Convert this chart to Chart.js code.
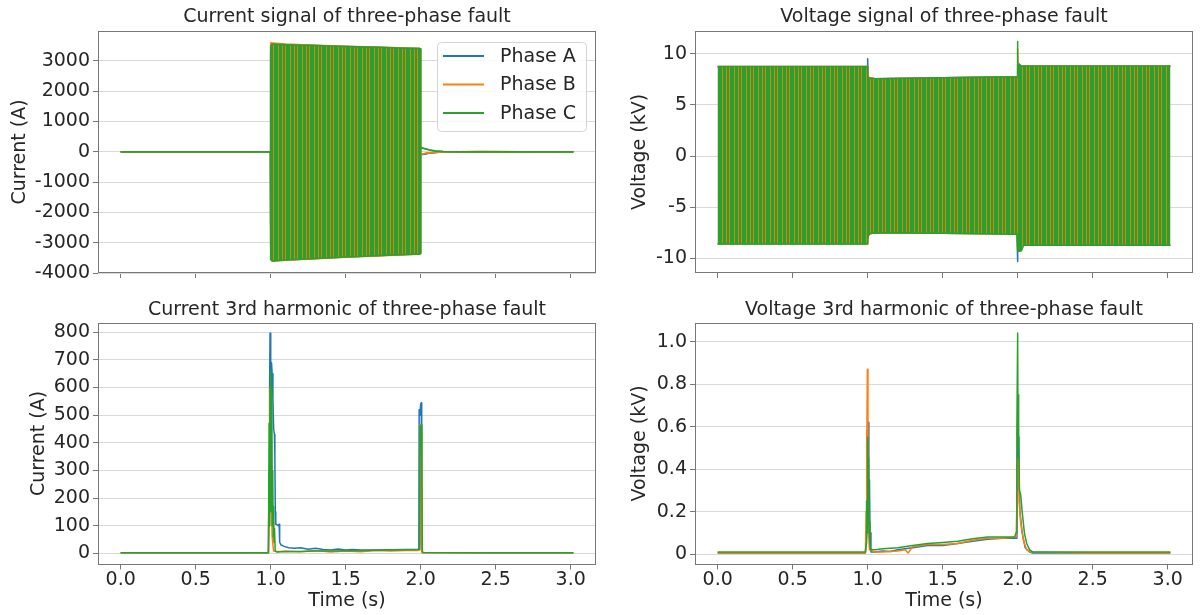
<!DOCTYPE html>
<html>
<head>
<meta charset="utf-8">
<script src="https://cdn.jsdelivr.net/npm/chart.js@4.4.0/dist/chart.umd.min.js"></script>
<style>
html,body{margin:0;padding:0;background:#fff;}
body{width:1200px;height:615px;position:relative;overflow:hidden;}
.box{position:absolute;}
canvas{display:block;}
</style>
</head>
<body>
<div class="box" style="left:0;top:0;width:600px;height:290px"><canvas id="cTL" width="600" height="290"></canvas></div>
<div class="box" style="left:600px;top:0;width:600px;height:290px"><canvas id="cTR" width="600" height="290"></canvas></div>
<div class="box" style="left:0;top:292px;width:600px;height:323px"><canvas id="cBL" width="600" height="323"></canvas></div>
<div class="box" style="left:600px;top:292px;width:600px;height:323px"><canvas id="cBR" width="600" height="323"></canvas></div>
<script>
// ===================== DATA =====================
const phaseLabels = ['Phase A', 'Phase B', 'Phase C'];

// --- Current signal (A): upper / lower envelope of the 50 Hz oscillation
const tCurSig    = [0, 0.998, 1.0, 1.01, 1.1, 1.3, 1.5, 1.7, 1.9, 1.995, 1.999, 2.0, 2.01, 2.03, 2.06, 2.1, 2.15, 2.25, 2.4, 2.7, 3.018];
const curSigA_hi = [0, 0, 3300, 3560, 3540, 3510, 3480, 3450, 3420, 3410, 3400, -80, -90, -70, -40, -20, -8, 0, 0, 0, 0];
const curSigA_lo = [0, 0, -2400, -3590, -3570, -3520, -3470, -3430, -3390, -3370, -3360, -80, -90, -70, -40, -20, -8, 0, 0, 0, 0];
const curSigB_hi = [0, 0, 3600, 3590, 3560, 3520, 3490, 3460, 3430, 3410, 3400, -60, -70, -50, -30, -15, -5, 3, 8, 4, 0];
const curSigB_lo = [0, 0, -3100, -3610, -3580, -3530, -3480, -3440, -3400, -3380, -3360, -60, -70, -50, -30, -15, -5, 3, 8, 4, 0];
const curSigC_hi = [0, 0, 3490, 3560, 3540, 3510, 3480, 3450, 3420, 3410, 3400, 130, 125, 100, 60, 30, 15, 5, 2, 0, 0];
const curSigC_lo = [0, 0, -3560, -3600, -3570, -3520, -3470, -3430, -3390, -3370, -3360, 130, 125, 100, 60, 30, 15, 5, 2, 0, 0];

// --- Voltage signal (kV): upper / lower envelope of the 50 Hz oscillation
const tVolSig    = [0, 0.997, 1.0, 1.003, 1.01, 1.05, 1.5, 1.996, 1.999, 2.001, 2.004, 2.01, 2.025, 2.04, 2.5, 3.018];
const volSigA_hi = [8.7, 8.7, 9.5, 7.8, 7.65, 7.55, 7.65, 7.75, 8.0, 9.0, 9.05, 9.0, 8.8, 8.75, 8.75, 8.75];
const volSigA_lo = [-8.55, -8.55, -8.0, -7.9, -7.6, -7.5, -7.55, -7.6, -10.3, -9.5, -9.0, -8.8, -8.75, -8.7, -8.7, -8.7];
const volSigB_hi = [8.75, 8.75, 8.3, 7.75, 7.65, 7.55, 7.65, 7.75, 10.5, 10.4, 8.9, 8.85, 8.8, 8.8, 8.8, 8.8];
const volSigB_lo = [-8.6, -8.6, -8.1, -7.9, -7.6, -7.5, -7.55, -7.65, -8.0, -8.8, -8.8, -8.75, -8.72, -8.72, -8.72, -8.72];
const volSigC_hi = [8.75, 8.75, 8.0, 7.7, 7.6, 7.55, 7.65, 7.75, 11.2, 9.0, 8.9, 8.85, 8.8, 8.8, 8.8, 8.8];
const volSigC_lo = [-8.6, -8.6, -8.2, -7.9, -7.6, -7.5, -7.55, -7.65, -9.3, -9.3, -9.3, -9.3, -9.25, -8.72, -8.72, -8.72];

// --- Current 3rd harmonic (A)
const tCurHarmA = [0, 0.5, 0.985, 0.99, 0.993, 0.996, 0.999, 1.002, 1.006, 1.01, 1.015, 1.02, 1.025, 1.028, 1.031, 1.034, 1.04, 1.05, 1.057, 1.06, 1.07, 1.09, 1.12, 1.16, 1.2, 1.25, 1.3, 1.35, 1.4, 1.45, 1.5, 1.55, 1.6, 1.7, 1.8, 1.9, 1.988, 1.99, 1.995, 2.0, 2.004, 2.007, 2.012, 2.5, 3.018];
const curHarmA  = [2, 2, 2, 300, 600, 797, 690, 560, 690, 650, 560, 450, 430, 360, 150, 105, 105, 100, 105, 40, 30, 25, 20, 18, 20, 15, 18, 14, 12, 16, 12, 14, 12, 12, 13, 14, 14, 520, 500, 540, 545, 20, 3, 2, 2];
const tCurHarmB = [0, 0.5, 0.985, 0.99, 0.994, 0.998, 1.002, 1.006, 1.01, 1.015, 1.02, 1.05, 1.1, 1.2, 1.3, 1.4, 1.5, 1.6, 1.7, 1.8, 1.9, 1.98, 1.99, 1.995, 1.998, 2.003, 2.006, 2.01, 2.5, 3.018];
const curHarmB  = [2, 2, 2, 100, 600, 180, 220, 150, 60, 30, 8, 6, 8, 6, 10, 5, 8, 6, 10, 8, 10, 10, 12, 250, 465, 450, 30, 2, 2, 2];
const tCurHarmC = [0, 0.5, 0.985, 0.99, 0.993, 0.996, 0.999, 1.002, 1.005, 1.008, 1.011, 1.014, 1.017, 1.02, 1.023, 1.026, 1.03, 1.04, 1.06, 1.1, 1.2, 1.3, 1.4, 1.5, 1.6, 1.7, 1.8, 1.9, 1.98, 1.993, 1.996, 2.0, 2.004, 2.008, 2.011, 2.02, 2.5, 3.018];
const curHarmC  = [2, 2, 2, 470, 100, 600, 150, 660, 220, 600, 100, 300, 60, 170, 40, 90, 10, 5, 6, 6, 7, 8, 8, 9, 9, 11, 12, 13, 14, 15, 460, 430, 465, 300, 5, 3, 2, 2];

// --- Voltage 3rd harmonic (kV)
const tVolHarmA = [0, 0.5, 0.985, 0.995, 1.0, 1.005, 1.008, 1.012, 1.016, 1.022, 1.05, 1.1, 1.15, 1.2, 1.25, 1.3, 1.4, 1.5, 1.6, 1.7, 1.8, 1.9, 1.99, 1.995, 2.0, 2.004, 2.008, 2.015, 2.03, 2.05, 2.08, 2.1, 2.5, 3.018];
const volHarmA  = [0.005, 0.005, 0.005, 0.1, 0.35, 0.62, 0.3, 0.35, 0.1, 0.01, 0.01, 0.015, 0.012, 0.02, 0.025, 0.03, 0.04, 0.04, 0.05, 0.06, 0.07, 0.075, 0.075, 0.3, 0.62, 0.55, 0.4, 0.2, 0.1, 0.03, 0.01, 0.005, 0.005, 0.005];
const tVolHarmB = [0, 0.5, 0.985, 0.99, 0.992, 0.995, 0.998, 1.002, 1.006, 1.012, 1.05, 1.1, 1.2, 1.25, 1.27, 1.3, 1.4, 1.5, 1.6, 1.7, 1.8, 1.9, 1.99, 1.997, 2.002, 2.006, 2.01, 2.02, 2.04, 2.06, 2.09, 2.5, 3.018];
const volHarmB  = [0.005, 0.005, 0.005, 0.2, 0.58, 0.4, 0.87, 0.45, 0.1, 0.02, 0.01, 0.01, 0.015, 0.02, 0.005, 0.035, 0.045, 0.045, 0.05, 0.065, 0.075, 0.075, 0.08, 0.3, 0.45, 0.43, 0.24, 0.15, 0.06, 0.02, 0.01, 0.005, 0.005];
const tVolHarmC = [0, 0.5, 0.985, 0.99, 0.993, 0.997, 1.0, 1.003, 1.006, 1.01, 1.015, 1.02, 1.05, 1.1, 1.2, 1.3, 1.4, 1.5, 1.6, 1.7, 1.8, 1.9, 1.98, 1.99, 1.995, 2.0, 2.003, 2.005, 2.008, 2.012, 2.02, 2.03, 2.045, 2.06, 2.08, 2.1, 2.5, 3.018];
const volHarmC  = [0.01, 0.01, 0.01, 0.05, 0.25, 0.1, 0.55, 0.35, 0.45, 0.15, 0.05, 0.02, 0.02, 0.025, 0.03, 0.04, 0.05, 0.055, 0.06, 0.072, 0.08, 0.08, 0.08, 0.1, 0.6, 1.04, 0.5, 0.75, 0.6, 0.3, 0.28, 0.2, 0.1, 0.05, 0.02, 0.01, 0.01, 0.01];

// --- Tick values
const timeTicks     = [0, 0.5, 1.0, 1.5, 2.0, 2.5, 3.0];
const curSigTicks   = [-4000, -3000, -2000, -1000, 0, 1000, 2000, 3000];
const volSigTicks   = [-10, -5, 0, 5, 10];
const curHarmTicks  = [0, 100, 200, 300, 400, 500, 600, 700, 800];
const volHarmTicks  = [0, 0.2, 0.4, 0.6, 0.8, 1.0];
// ===================== END DATA =====================

const BLUE = '#1f77b4', ORANGE = '#ff7f0e', GREEN = '#2ca02c';
const TXT = '#262626';
Chart.defaults.font.family = "'DejaVu Sans', sans-serif";
Chart.defaults.color = TXT;

function pts(t, v) { return t.map((x, i) => ({x: x, y: v[i]})); }

// striped fill that imitates the dense overlapping oscillations
function stripePattern() {
  const c = document.createElement('canvas');
  c.width = 12; c.height = 8;
  const g = c.getContext('2d');
  g.fillStyle = GREEN; g.fillRect(0, 0, 12, 8);
  [2, 6, 9].forEach(i => { g.clearRect(i, 0, 1, 8); g.fillStyle = 'rgba(44,160,44,0.2)'; g.fillRect(i, 0, 1, 8); });
  return g.createPattern(c, 'repeat');
}
const greenStripes = stripePattern();

const lineBase = {pointRadius: 0, tension: 0, borderWidth: 1.5, borderJoinStyle: 'round'};

function band(label, color, fillStyle, order, t, hi, lo) {
  return [
    Object.assign({}, lineBase, {label: label, legend: true, data: pts(t, hi), borderColor: color, backgroundColor: fillStyle, fill: '+1', order: order}),
    Object.assign({}, lineBase, {label: label + ' (lower envelope)', data: pts(t, lo), borderColor: color, backgroundColor: fillStyle, fill: false, order: order})
  ];
}
function trace(label, color, order, t, v) {
  return Object.assign({}, lineBase, {label: label, legend: true, data: pts(t, v), borderColor: color, fill: false, order: order});
}

const framePlugin = {
  id: 'frame',
  afterDatasetsDraw(chart) {
    const a = chart.chartArea, ctx = chart.ctx;
    ctx.save();
    ctx.strokeStyle = '#777'; ctx.lineWidth = 1;
    ctx.strokeRect(Math.round(a.left) + 0.5, Math.round(a.top) + 0.5, Math.round(a.right - a.left) - 1, Math.round(a.bottom - a.top) - 1);
    ctx.restore();
  }
};
const boxLegend = {
  id: 'boxLegend',
  afterDraw(chart, args, o) {
    if (!o.show) return;
    const ctx = chart.ctx, a = chart.chartArea;
    const items = chart.data.datasets.filter(d => d.legend);
    const w = 149, h = 89, x = Math.round(a.right) - 10 - w, y = Math.round(a.top) + 11;
    ctx.save();
    ctx.beginPath(); ctx.roundRect(x + 0.5, y + 0.5, w, h, 4);
    ctx.fillStyle = 'rgba(255,255,255,0.8)'; ctx.fill();
    ctx.strokeStyle = '#d4d4d4'; ctx.lineWidth = 1; ctx.stroke();
    ctx.font = "19px 'DejaVu Sans'"; ctx.textBaseline = 'middle'; ctx.textAlign = 'left';
    items.forEach((d, i) => {
      const yy = y + 14 + i * 28.5;
      ctx.strokeStyle = d.borderColor; ctx.lineWidth = 2;
      ctx.beginPath(); ctx.moveTo(x + 6, yy); ctx.lineTo(x + 47, yy); ctx.stroke();
      ctx.fillStyle = TXT; ctx.fillText(d.label, x + 63, yy + 1);
    });
    ctx.restore();
  }
};

function fixedTicks(values) {
  return function (scale) { scale.ticks = values.map(v => ({value: v})); };
}

function opts(cfg) {
  return {
    responsive: false, animation: false, events: [],
    layout: {padding: {left: 0, right: cfg.padRight, top: 0, bottom: 0}},
    plugins: {
      legend: {display: false}, tooltip: {enabled: false},
      title: {display: true, text: cfg.title, fullSize: false, color: TXT,
              font: {size: 19, weight: 'normal', lineHeight: 1.2},
              padding: {top: cfg.titleTop, bottom: cfg.titleBottom}},
      boxLegend: {show: !!cfg.legend}
    },
    scales: {
      x: {
        type: 'linear', min: -0.151, max: 3.169,
        afterBuildTicks: fixedTicks(timeTicks),
        afterFit(s) { s.height = cfg.xHeight; },
        border: {display: false},
        grid: {display: true, drawOnChartArea: false, drawTicks: true, tickLength: 5, tickColor: '#777', tickWidth: 1},
        ticks: {display: cfg.xLabels, autoSkip: false, maxRotation: 0,
                padding: 1, color: TXT, font: {size: 19, lineHeight: 1}, callback: v => v.toFixed(1)},
        title: {display: cfg.xLabels, text: 'Time (s)', color: TXT, font: {size: 19, lineHeight: 1.2}, padding: {top: 0, bottom: 2.6}}
      },
      y: {
        type: 'linear', min: cfg.ymin, max: cfg.ymax,
        afterBuildTicks: fixedTicks(cfg.yticks),
        afterFit(s) { s.width = cfg.yWidth; },
        border: {display: false},
        grid: {color: '#d9d9d9', lineWidth: 1, drawTicks: true, tickLength: 5, tickColor: '#777', tickWidth: 1},
        ticks: {autoSkip: false, padding: 3, color: TXT, font: {size: 19}, callback: cfg.yfmt},
        title: {display: true, text: cfg.ytitle, color: TXT, font: {size: 19, lineHeight: 1.2}, padding: {top: cfg.yTitlePad, bottom: 0}}
      }
    }
  };
}

// ---------- Top left: current signal ----------
new Chart(document.getElementById('cTL'), {
  type: 'line',
  data: {datasets: [].concat(
    band(phaseLabels[0], BLUE, BLUE, 3, tCurSig, curSigA_hi, curSigA_lo),
    band(phaseLabels[1], ORANGE, ORANGE, 2, tCurSig, curSigB_hi, curSigB_lo),
    band(phaseLabels[2], GREEN, greenStripes, 1, tCurSig, curSigC_hi, curSigC_lo)
  )},
  options: opts({title: 'Current signal of three-phase fault', ytitle: 'Current (A)', ymin: -4000, ymax: 3990, yticks: curSigTicks,
                 yfmt: v => String(v), yWidth: 98, yTitlePad: 9, padRight: 4, xHeight: 17, xLabels: false,
                 titleTop: 6, titleBottom: 2.2, legend: true}),
  plugins: [framePlugin, boxLegend]
});

// ---------- Top right: voltage signal ----------
new Chart(document.getElementById('cTR'), {
  type: 'line',
  data: {datasets: [].concat(
    band(phaseLabels[0], BLUE, BLUE, 3, tVolSig, volSigA_hi, volSigA_lo),
    band(phaseLabels[1], ORANGE, ORANGE, 2, tVolSig, volSigB_hi, volSigB_lo),
    band(phaseLabels[2], GREEN, greenStripes, 1, tVolSig, volSigC_hi, volSigC_lo)
  )},
  options: opts({title: 'Voltage signal of three-phase fault', ytitle: 'Voltage (kV)', ymin: -11.43, ymax: 12.22, yticks: volSigTicks,
                 yfmt: v => String(v), yWidth: 95, yTitlePad: 28.6, padRight: 7, xHeight: 17, xLabels: false,
                 titleTop: 6, titleBottom: 2.2}),
  plugins: [framePlugin, boxLegend]
});

// ---------- Bottom left: current 3rd harmonic ----------
new Chart(document.getElementById('cBL'), {
  type: 'line',
  data: {datasets: [
    trace(phaseLabels[0], BLUE, 3, tCurHarmA, curHarmA),
    trace(phaseLabels[1], ORANGE, 2, tCurHarmB, curHarmB),
    trace(phaseLabels[2], GREEN, 1, tCurHarmC, curHarmC)
  ]},
  options: opts({title: 'Current 3rd harmonic of three-phase fault', ytitle: 'Current (A)', ymin: -40.5, ymax: 835.5, yticks: curHarmTicks,
                 yfmt: v => String(v), yWidth: 98, yTitlePad: 28, padRight: 4, xHeight: 50.5, xLabels: true,
                 titleTop: 6.6, titleBottom: 1.1}),
  plugins: [framePlugin, boxLegend]
});

// ---------- Bottom right: voltage 3rd harmonic ----------
new Chart(document.getElementById('cBR'), {
  type: 'line',
  data: {datasets: [
    trace(phaseLabels[0], BLUE, 3, tVolHarmA, volHarmA),
    trace(phaseLabels[1], ORANGE, 2, tVolHarmB, volHarmB),
    trace(phaseLabels[2], GREEN, 1, tVolHarmC, volHarmC)
  ]},
  options: opts({title: 'Voltage 3rd harmonic of three-phase fault', ytitle: 'Voltage (kV)', ymin: -0.049, ymax: 1.09, yticks: volHarmTicks,
                 yfmt: v => (v === 0 ? '0' : v.toFixed(1)), yWidth: 95, yTitlePad: 28.6, padRight: 7, xHeight: 50.5, xLabels: true,
                 titleTop: 6.6, titleBottom: 1.1}),
  plugins: [framePlugin, boxLegend]
});
</script>
</body>
</html>
